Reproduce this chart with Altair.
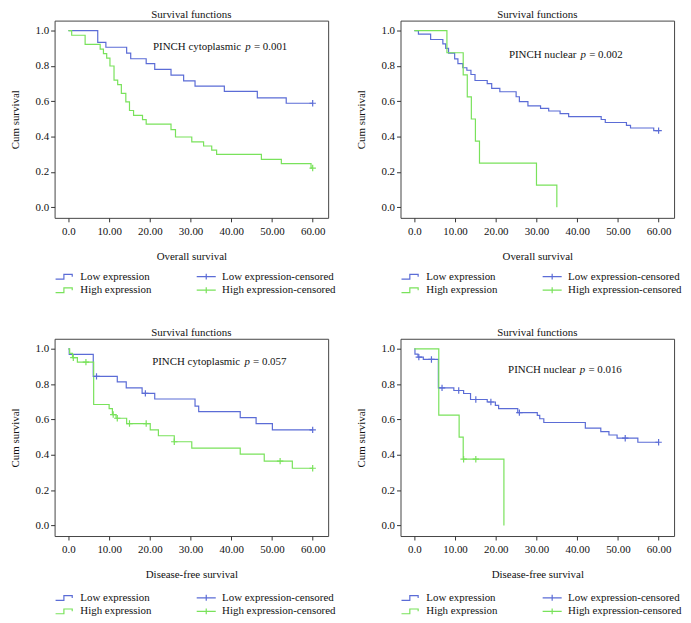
import altair as alt
import pandas as pd

ITEMS = ["Low expression", "High expression", "Low expression-censored", "High expression-censored"]
BLUE = "#5b6cd6"
GREEN = "#79e25b"
FONT = "Liberation Serif"
X_TICKS = [0, 10, 20, 30, 40, 50, 60]
Y_TICKS = [0.0, 0.2, 0.4, 0.6, 0.8, 1.0]

# Panel 1: overall survival, PINCH cytoplasmic
p1_low_t = [0, 7.2, 9.2, 14.3, 15.3, 19.1, 21.2, 25.2, 28.3, 31.1, 38.3, 46.4, 53.5, 60]
p1_low_s = [1.0, 0.934, 0.906, 0.873, 0.841, 0.813, 0.781, 0.748, 0.716, 0.686, 0.656, 0.62, 0.589, 0.589]
p1_high_t = [0, 0.8, 4.1, 7.8, 8.6, 9.4, 10.2, 11.2, 12.1, 13.0, 14.1, 15.0, 16.0, 18.2, 19.1,
             25.2, 26.3, 30.3, 33.2, 35.2, 36.4, 47.4, 52.3, 59.6, 60]
p1_high_s = [1.0, 0.974, 0.922, 0.896, 0.87, 0.845, 0.80, 0.72, 0.695, 0.645, 0.597, 0.548, 0.52, 0.496, 0.471,
             0.44, 0.398, 0.37, 0.347, 0.324, 0.299, 0.271, 0.247, 0.222, 0.222]
p1_lowc_t, p1_lowc_s = [60], [0.589]
p1_highc_t, p1_highc_s = [60], [0.222]

# Panel 2: overall survival, PINCH nuclear
p2_low_t = [0, 1.0, 4.0, 7.0, 7.7, 8.4, 9.9, 10.7, 11.9, 12.9, 13.9, 14.9, 17.9, 19.0, 21.0, 25.0, 25.8,
            27.9, 31.0, 33.0, 35.8, 37.9, 45.9, 46.9, 52.1, 53.1, 58.8, 60]
p2_low_s = [1.0, 0.981, 0.95, 0.925, 0.90, 0.873, 0.84, 0.813, 0.79, 0.776, 0.752, 0.718, 0.70, 0.673, 0.654,
            0.626, 0.598, 0.574, 0.56, 0.545, 0.53, 0.513, 0.497, 0.48, 0.464, 0.449, 0.434, 0.434]
p2_high_t = [0, 8, 12, 13, 14, 15, 16, 30, 35]
p2_high_s = [1.0, 0.875, 0.75, 0.625, 0.5, 0.375, 0.25, 0.125, 0.0]
p2_lowc_t, p2_lowc_s = [60], [0.434]
p2_highc_t, p2_highc_s = [], []

# Panel 3: disease-free survival, PINCH cytoplasmic
p3_low_t = [0, 0.2, 6.1, 12.0, 14.2, 18.1, 21.2, 31.1, 32.0, 42.2, 46.1, 50.1, 60]
p3_low_s = [1.0, 0.969, 0.844, 0.813, 0.779, 0.748, 0.716, 0.676, 0.644, 0.611, 0.577, 0.541, 0.541]
p3_high_t = [0, 0.3, 1.0, 2.2, 6.2, 10.0, 10.8, 11.7, 14.3, 20.1, 22.1, 26.0, 30.3, 42.2, 48.1, 55.0, 60]
p3_high_s = [1.0, 0.974, 0.95, 0.925, 0.685, 0.661, 0.628, 0.607, 0.577, 0.541, 0.508, 0.474, 0.438,
             0.404, 0.364, 0.324, 0.324]
p3_lowc_t, p3_lowc_s = [6.9, 18.9, 60], [0.844, 0.748, 0.541]
p3_highc_t = [1.2, 4.3, 11.0, 12.0, 15.0, 19.1, 26.0, 52.0, 60]
p3_highc_s = [0.95, 0.925, 0.628, 0.607, 0.577, 0.577, 0.474, 0.364, 0.324]

# Panel 4: disease-free survival, PINCH nuclear
p4_low_t = [0, 0.15, 0.9, 2.2, 5.9, 9.7, 12.1, 13.8, 17.9, 19.9, 20.7, 25.4, 30.2, 30.8, 31.8, 42.0,
            45.8, 47.8, 49.8, 54.9, 60]
p4_low_s = [1.0, 0.97, 0.953, 0.94, 0.779, 0.764, 0.747, 0.713, 0.699, 0.680, 0.661, 0.639, 0.623, 0.604,
            0.583, 0.551, 0.531, 0.512, 0.494, 0.471, 0.471]
p4_high_t = [0, 6, 11, 12, 22]
p4_high_s = [1.0, 0.625, 0.5, 0.375, 0.0]
p4_lowc_t = [1.1, 4.2, 6.8, 10.9, 15.1, 18.8, 25.8, 51.8, 60]
p4_lowc_s = [0.953, 0.94, 0.779, 0.764, 0.713, 0.699, 0.639, 0.494, 0.471]
p4_highc_t, p4_highc_s = [12.1, 15.1], [0.375, 0.375]

STEP_ICON = "M-1.5,0.4L-0.1,0.4L-0.1,-0.4L1.3,-0.4L1.3,0"
CENS_ICON = "M-1.6,0L1.6,0M0,-0.5L0,0.5"
CROSS = "M-1,0L1,0M0,-1L0,1"


def panel(low_t, low_s, high_t, high_s, lc_t, lc_s, hc_t, hc_s, xtitle, label, pval, px, py, leg_y):
    curves = pd.DataFrame({
        "time": low_t + high_t,
        "surv": low_s + high_s,
        "item": [ITEMS[0]] * len(low_t) + [ITEMS[1]] * len(high_t),
    })
    cens = pd.DataFrame({
        "time": lc_t + hc_t,
        "surv": lc_s + hc_s,
        "item": [ITEMS[2]] * len(lc_t) + [ITEMS[3]] * len(hc_t),
    })
    keys = pd.DataFrame({"time": [-50.0] * 4, "surv": [-5.0] * 4, "item": ITEMS})
    ann = pd.DataFrame({"time": [px], "surv": [py], "a": [label], "b": ["p"], "c": ["= " + pval]})

    xs = alt.Scale(domain=[-3.4, 63.8], nice=False, zero=False)
    ys = alt.Scale(domain=[-0.06, 1.057], nice=False, zero=False)
    xax = alt.Axis(values=X_TICKS, title=xtitle,
                   labelExpr="datum.value == 0 ? '0.0' : format(datum.value, '.2f')",
                   labelPadding=4, titlePadding=14)
    yax = alt.Axis(values=Y_TICKS, format=".1f", title="Cum survival", titlePadding=15)
    x = alt.X("time:Q", scale=xs, axis=xax)
    y = alt.Y("surv:Q", scale=ys, axis=yax)
    cscale = alt.Scale(domain=ITEMS, range=[BLUE, GREEN, BLUE, GREEN])
    sscale = alt.Scale(domain=ITEMS, range=[STEP_ICON, STEP_ICON, CENS_ICON, CENS_ICON])
    leg = alt.Legend(title=None, orient="none", legendX=3, legendY=leg_y, columns=2,
                     columnPadding=42, rowPadding=1, symbolSize=144, symbolStrokeWidth=1.2,
                     labelOffset=9, labelFont=FONT, labelFontSize=11, labelColor="#111",
                     padding=0)

    key = alt.Chart(keys).mark_point(filled=False, clip=True, opacity=1, strokeWidth=1.2).encode(
        x=x, y=y,
        color=alt.Color("item:N", scale=cscale, legend=leg),
        shape=alt.Shape("item:N", scale=sscale, legend=leg),
    )
    lines = alt.Chart(curves).mark_line(interpolate="step-after", strokeWidth=1.2).encode(
        x=x, y=y, color=alt.Color("item:N", scale=cscale, legend=None)
    )
    marks = alt.Chart(cens).mark_point(shape=CROSS, filled=False, size=42, strokeWidth=1.2, opacity=1).encode(
        x=x, y=y, color=alt.Color("item:N", scale=cscale, legend=None)
    )
    ta = alt.Chart(ann).mark_text(align="right", dx=-7, font=FONT, fontSize=11, color="#111").encode(
        x=x, y=y, text="a:N")
    tb = alt.Chart(ann).mark_text(align="center", font=FONT, fontSize=11, fontStyle="italic", color="#111").encode(
        x=x, y=y, text="b:N")
    tc = alt.Chart(ann).mark_text(align="left", dx=6, font=FONT, fontSize=11, color="#111").encode(
        x=x, y=y, text="c:N")

    return alt.layer(key, lines, marks, ta, tb, tc).properties(
        width=276, height=199,
        title=alt.Title("Survival functions", font=FONT, fontSize=11, fontWeight="normal",
                        color="#111", offset=1),
    )


c1 = panel(p1_low_t, p1_low_s, p1_high_t, p1_high_s, p1_lowc_t, p1_lowc_s, p1_highc_t, p1_highc_s,
           "Overall survival", "PINCH cytoplasmic", "0.001", 44.1, 0.91, 251)
c2 = panel(p2_low_t, p2_low_s, p2_high_t, p2_high_s, p2_lowc_t, p2_lowc_s, p2_highc_t, p2_highc_s,
           "Overall survival", "PINCH nuclear", "0.002", 41.5, 0.86, 251)
c3 = panel(p3_low_t, p3_low_s, p3_high_t, p3_high_s, p3_lowc_t, p3_lowc_s, p3_highc_t, p3_highc_s,
           "Disease-free survival", "PINCH cytoplasmic", "0.057", 43.9, 0.925, 254)
c4 = panel(p4_low_t, p4_low_s, p4_high_t, p4_high_s, p4_lowc_t, p4_lowc_s, p4_highc_t, p4_highc_s,
           "Disease-free survival", "PINCH nuclear", "0.016", 41.3, 0.882, 254)

chart = alt.concat(c1, c2, c3, c4, columns=2, spacing={"row": 122, "column": 73}, bounds="flush").resolve_scale(
    color="independent", shape="independent"
).properties(
    padding={"left": 0, "top": -3, "right": 0, "bottom": 0},
    background="white",
).configure_view(
    stroke="#444", strokeWidth=1
).configure_axis(
    domain=False, grid=False, tickColor="#333", tickSize=4, tickWidth=1,
    labelFont=FONT, labelFontSize=11, labelColor="#111", labelPadding=2,
    titleFont=FONT, titleFontSize=11, titleFontWeight="normal", titleColor="#111",
)

chart.save("out.html", embed_options={"renderer": "svg", "actions": False})
